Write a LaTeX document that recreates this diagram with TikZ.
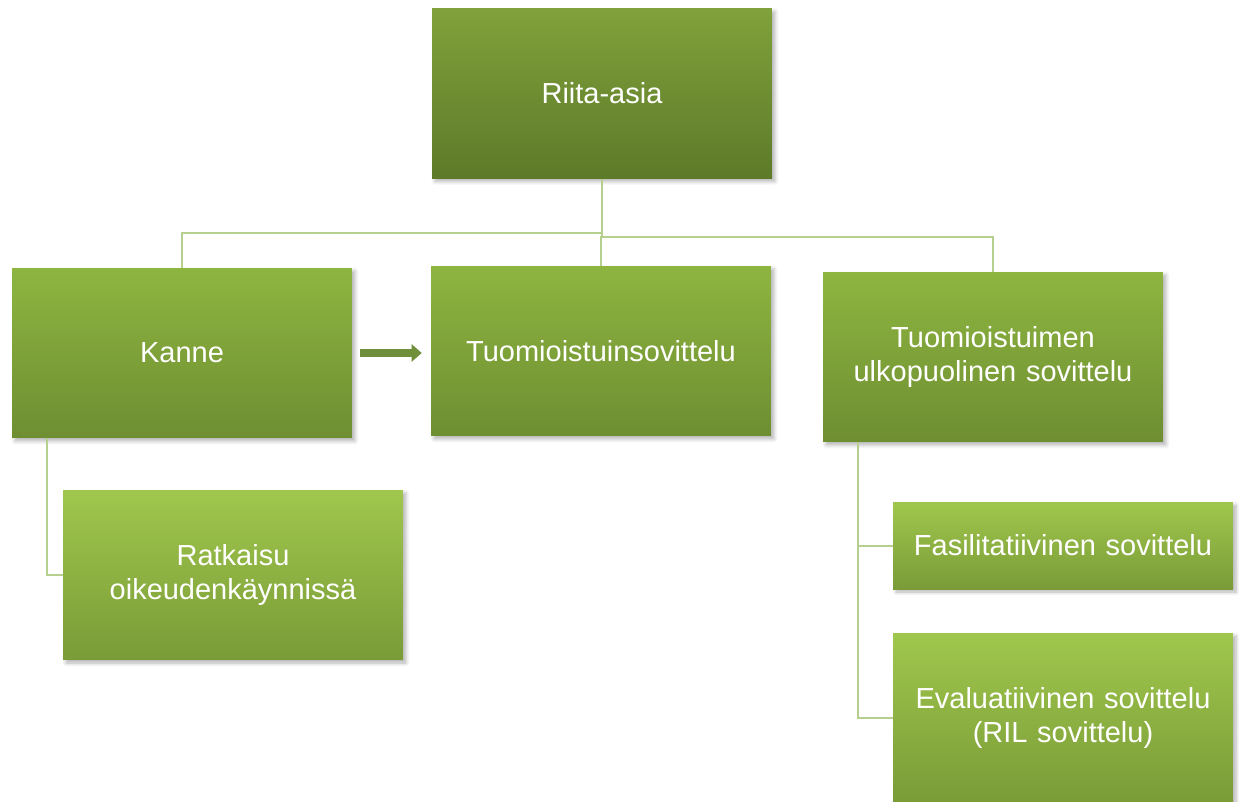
\documentclass[tikz,border=0pt]{standalone}
\usepackage{fontspec}
\setmainfont{Liberation Sans}
\usetikzlibrary{arrows.meta,shadows.blur}

\definecolor{topA}{HTML}{80A13B}
\definecolor{botA}{HTML}{5D7A29}
\definecolor{topB}{HTML}{8EB540}
\definecolor{botB}{HTML}{6E8E32}
\definecolor{topC}{HTML}{A0C74D}
\definecolor{botC}{HTML}{7A9B37}
\definecolor{linkgreen}{HTML}{B5CF8C}
\definecolor{arrowgreen}{HTML}{6F8F3A}

\tikzset{
  box/.style={rectangle, minimum width=6.8cm, minimum height=3.4cm,
    text width=6.4cm, align=center, text=white, inner sep=0pt,
    font=\fontsize{16.5}{19}\selectfont,
    blur shadow={shadow xshift=0.6mm, shadow yshift=-0.6mm,
      shadow blur steps=6, shadow opacity=30}},
  boxA/.style={box, top color=topA, bottom color=botA},
  boxB/.style={box, top color=topB, bottom color=botB},
  boxC/.style={box, top color=topC, bottom color=botC},
  link/.style={draw=linkgreen, line width=0.04cm},
  blockarrow/.style={draw=arrowgreen, line width=0.16cm,
    -{Triangle[length=0.2cm,width=0.34cm]},
    shorten <=0.16cm, shorten >=0.18cm}
}

\begin{document}
\begin{tikzpicture}[x=0.02cm,y=-0.02cm]
   \useasboundingbox (0,0) rectangle (1239,801);
   % top level
   \path (602,93.5) node[boxA] (riita) {Riita-asia};
   % second level
   \path (182,353) node[boxB] (kanne) {Kanne};
   \path (601,351) node[boxB] (tuomio) {Tuomioistuinsovittelu};
   \path (993,357) node[boxB] (ulko) {Tuomioistuimen\\ulkopuolinen sovittelu};
   % third level
   \path (233,575) node[boxC] (ratkaisu) {Ratkaisu\\oikeudenkäynnissä};
   \path (1063,545.5) node[boxC, minimum height=1.74cm] (fasil) {Fasilitatiivinen sovittelu};
   \path (1063,718) node[boxC] (eval) {Evaluatiivinen sovittelu\\(RIL sovittelu)};
   % connectors
   \draw[link] (riita.south) -- ++(0,54) -| (kanne.north);
   \draw[link] (riita.south) -- ++(0,58) -| (ulko.north);
   \draw[link] (riita.south) -- ++(0,58) -| (tuomio.north);
   \draw[link] (kanne.south west) ++(35,0) |- (ratkaisu.west);
   \draw[link] (ulko.south west) ++(35,0) |- (fasil.west);
   \draw[link] (ulko.south west) ++(35,0) |- (eval.west);
   \draw[blockarrow] (kanne.east) -- (kanne.east -| tuomio.west);
\end{tikzpicture}
\end{document}
